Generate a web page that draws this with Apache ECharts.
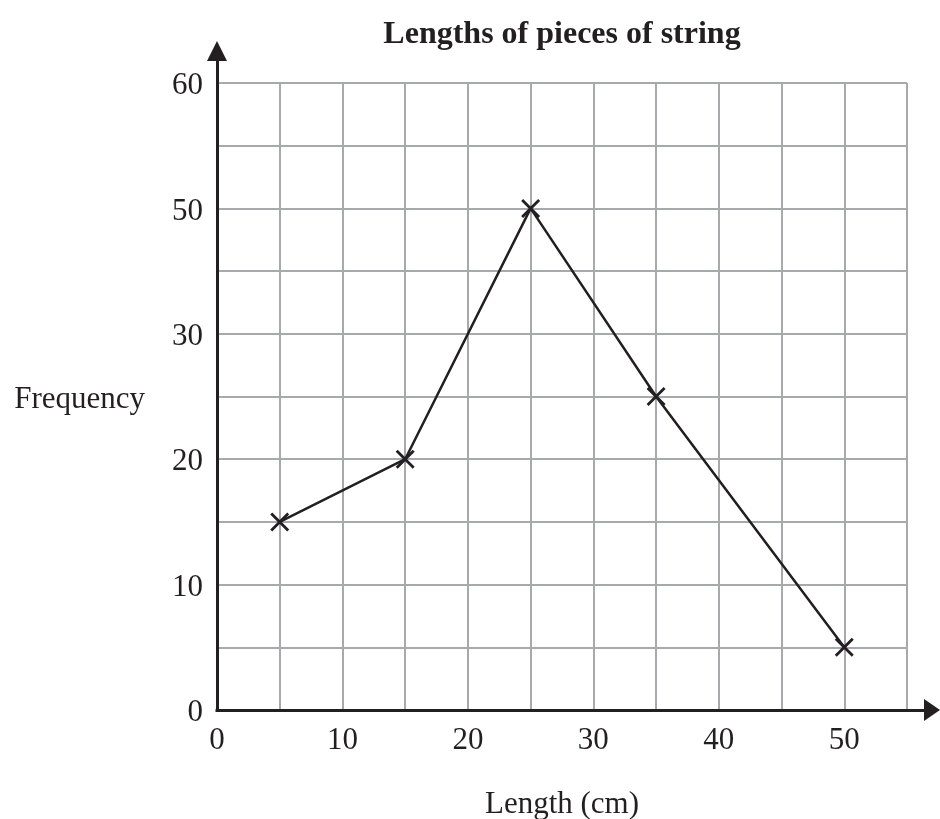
<!DOCTYPE html>
<html>
<head>
<meta charset="utf-8">
<script src="https://cdn.jsdelivr.net/npm/echarts@6/dist/echarts.min.js"></script>
<style>
  html, body { margin: 0; padding: 0; background: #ffffff; }
  #chart { width: 940px; height: 819px; }
</style>
</head>
<body>
<div id="chart"></div>
<script>
// ---- Data ----
var lengths = [5, 15, 25, 35, 50];            // Length (cm), x values
var frequencies = [15, 20, 50, 25, 5];        // Frequency as read on the (mis-labelled) y scale
var xTickLabels = ['0', '10', '20', '30', '40', '50'];
var yTickLabels = [0, 10, 20, 30, 50, 60];    // labels printed at evenly spaced ticks

// The y axis ticks are evenly spaced but labelled 0,10,20,30,50,60.
// Map a labelled value onto the evenly spaced axis (tick i sits at axis value i*10).
function toAxis(v) {
  for (var i = 0; i < yTickLabels.length - 1; i++) {
    var a = yTickLabels[i], b = yTickLabels[i + 1];
    if (v >= a && v <= b) return (i + (v - a) / (b - a)) * 10;
  }
  return v;
}

var seriesData = lengths.map(function (x, i) { return [x, toAxis(frequencies[i])]; });

var INK = '#231f20';
var GRIDC = '#a7a9ac';
var FONT = "'Liberation Serif', 'Times New Roman', serif";

var chart = echarts.init(document.getElementById('chart'), null, { renderer: 'canvas' });

var lowered = { fontFamily: FONT, fontSize: 31, color: INK, padding: [6, 0, 0, 0] };

chart.setOption({
  animation: false,
  backgroundColor: '#ffffff',
  title: {
    text: 'Lengths of pieces of string',
    left: 562,
    textAlign: 'center',
    top: 19,
    padding: 0,
    textStyle: { fontFamily: FONT, fontSize: 32, fontWeight: 'bold', color: INK }
  },
  grid: [
    { left: 217, right: 33, top: 83, bottom: 109, containLabel: false, outerBoundsMode: 'none' },
    { left: 217, right: 8, top: 51, bottom: 109, containLabel: false, outerBoundsMode: 'none' }
  ],
  xAxis: [
    {
      type: 'value', gridIndex: 0, min: 0, max: 55, interval: 5,
      axisLine: { show: false },
      axisTick: { show: false },
      splitLine: { show: true, lineStyle: { color: GRIDC, width: 2 } },
      axisLabel: {
        margin: 15,
        fontFamily: FONT, fontSize: 31, color: INK,
        formatter: function (v) {
          return (v % 10 === 0 && v / 10 < xTickLabels.length) ? xTickLabels[v / 10] : '';
        }
      },
      name: 'Length (cm)',
      nameLocation: 'middle',
      nameGap: 79,
      nameTextStyle: { fontFamily: FONT, fontSize: 31, color: INK }
    },
    {
      type: 'value', gridIndex: 1, min: 0, max: 1, z: 3,
      axisLine: { show: true, symbol: ['none', 'triangle'], symbolSize: [22, 16],
        lineStyle: { color: INK, width: 3, cap: 'square' } },
      axisTick: { show: false }, axisLabel: { show: false }, splitLine: { show: false }
    }
  ],
  yAxis: [
    {
      type: 'value', gridIndex: 0, min: 0, max: 50, interval: 5,
      axisLine: { show: false },
      axisTick: { show: false },
      splitLine: { show: true, lineStyle: { color: GRIDC, width: 2 } },
      axisLabel: {
        margin: 14,
        fontFamily: FONT, fontSize: 31, color: INK,
        rich: { v: lowered },
        formatter: function (v) {
          return (v % 10 === 0) ? '{v|' + yTickLabels[v / 10] + '}' : '';
        }
      },
      name: '{v|Frequency}',
      nameLocation: 'middle',
      nameRotate: 0,
      nameGap: 72,
      nameTextStyle: { fontFamily: FONT, fontSize: 31, color: INK, rich: { v: lowered } }
    },
    {
      type: 'value', gridIndex: 1, min: 0, max: 1, z: 3,
      axisLine: { show: true, symbol: ['none', 'triangle'], symbolSize: [20, 20],
        lineStyle: { color: INK, width: 3, cap: 'square' } },
      axisTick: { show: false }, axisLabel: { show: false }, splitLine: { show: false }
    }
  ],
  series: [
    {
      type: 'line',
      xAxisIndex: 0, yAxisIndex: 0,
      data: seriesData,
      z: 5,
      lineStyle: { color: INK, width: 2.5 },
      symbol: 'path://M0,0L10,10M10,0L0,10',
      symbolSize: 17,
      showAllSymbol: true,
      itemStyle: { color: INK, borderColor: INK, borderWidth: 2.8 },
      emphasis: { disabled: true }
    }
  ]
});
</script>
</body>
</html>
